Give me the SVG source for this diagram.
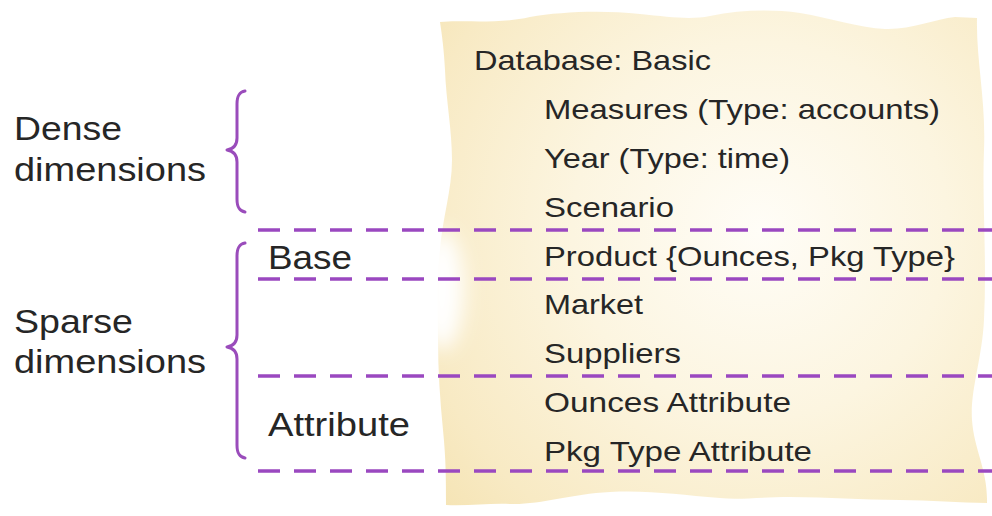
<svg xmlns="http://www.w3.org/2000/svg" width="992" height="516" viewBox="0 0 992 516">
<style>
.t{font-family:"Liberation Sans",Arial,Helvetica,sans-serif;fill:#262626;}
.r{font-size:28px;}
.l{font-size:33px;}
.brace{fill:none;stroke:#9a4cbb;stroke-width:3;stroke-linecap:round;stroke-linejoin:round;}
.dash{fill:none;stroke:#9a48c0;stroke-width:3.5;stroke-dasharray:22 14;}
</style>
<defs>
<radialGradient id="paper" cx="760" cy="230" r="470" gradientUnits="userSpaceOnUse">
<stop offset="0" stop-color="#fffdf7"/>
<stop offset="0.4" stop-color="#fcf5e0"/>
<stop offset="0.75" stop-color="#f8eac4"/>
<stop offset="1" stop-color="#f3e0aa"/>
</radialGradient>
<filter id="soft" x="-50%" y="-50%" width="200%" height="200%">
<feGaussianBlur stdDeviation="10"/>
</filter>
</defs>
<rect width="992" height="516" fill="#ffffff"/>
<g id="paper-sheet">
<path d="M440,22 C470,20 500,24 530,17 C560,12 600,10 640,14 C670,17 690,20 710,16 C740,10 770,9 800,13 C830,18 860,28 885,29 C910,30 935,19 955,17 L977,18 C976,60 986,100 984,150 C982,200 987,260 984,320 C982,360 970,390 972,420 C974,450 988,470 987,503 C960,503 930,500 900,500 C860,500 830,497 790,497 C760,497 740,500 720,498 C680,495 650,490 610,492 C570,494 540,505 510,504 C490,503 470,506 446,505 C446,480 446,460 443,430 C440,400 438,370 438,340 C438,310 436,280 440,250 C442,220 452,190 452,160 C452,130 446,100 445,70 C444,50 442,35 440,22 Z" fill="url(#paper)"/>
<ellipse cx="442" cy="290" rx="22" ry="60" fill="#ffffff" filter="url(#soft)"/>
</g>
<g id="connectors">
<line class="dash" x1="258" y1="230" x2="992" y2="230"/>
<line class="dash" x1="258" y1="279" x2="992" y2="279"/>
<line class="dash" x1="258" y1="376" x2="992" y2="376"/>
<line class="dash" x1="258" y1="471" x2="992" y2="471"/>
</g>
<g id="dense-brace">
<path class="brace" d="M245,91 C239,92 237,96 237,104 L237,138 C237,145 233,149 227,150 C233,151 237,155 237,162 L237,199 C237,207 239,211 245,212"/>
</g>
<g id="sparse-brace">
<path class="brace" d="M245,243 C239,244 237,248 237,256 L237,335 C237,342 233,346 227,347 C233,348 237,352 237,359 L237,445 C237,453 239,457 245,458"/>
</g>
<g id="label-dense">
<text class="t l" x="14" y="140" textLength="108" lengthAdjust="spacingAndGlyphs">Dense</text>
<text class="t l" x="14" y="181" textLength="192" lengthAdjust="spacingAndGlyphs">dimensions</text>
</g>
<g id="label-sparse">
<text class="t l" x="14" y="333" textLength="119" lengthAdjust="spacingAndGlyphs">Sparse</text>
<text class="t l" x="14" y="373" textLength="192" lengthAdjust="spacingAndGlyphs">dimensions</text>
</g>
<g id="label-base">
<text class="t l" x="268" y="269" textLength="84" lengthAdjust="spacingAndGlyphs">Base</text>
</g>
<g id="label-attribute">
<text class="t l" x="268" y="436" textLength="142" lengthAdjust="spacingAndGlyphs">Attribute</text>
</g>
<g id="database">
<text class="t r" x="474" y="70" textLength="237" lengthAdjust="spacingAndGlyphs">Database: Basic</text>
</g>
<g id="measures"><text class="t r" x="544" y="119" textLength="396" lengthAdjust="spacingAndGlyphs">Measures (Type: accounts)</text></g>
<g id="year"><text class="t r" x="544" y="168" textLength="246" lengthAdjust="spacingAndGlyphs">Year (Type: time)</text></g>
<g id="scenario"><text class="t r" x="544" y="217" textLength="130" lengthAdjust="spacingAndGlyphs">Scenario</text></g>
<g id="product"><text class="t r" x="544" y="266" textLength="411" lengthAdjust="spacingAndGlyphs">Product {Ounces, Pkg Type}</text></g>
<g id="market"><text class="t r" x="544" y="314" textLength="99" lengthAdjust="spacingAndGlyphs">Market</text></g>
<g id="suppliers"><text class="t r" x="544" y="363" textLength="137" lengthAdjust="spacingAndGlyphs">Suppliers</text></g>
<g id="ounces-attr"><text class="t r" x="544" y="412" textLength="247" lengthAdjust="spacingAndGlyphs">Ounces Attribute</text></g>
<g id="pkg-attr"><text class="t r" x="544" y="461" textLength="268" lengthAdjust="spacingAndGlyphs">Pkg Type Attribute</text></g>
</svg>
